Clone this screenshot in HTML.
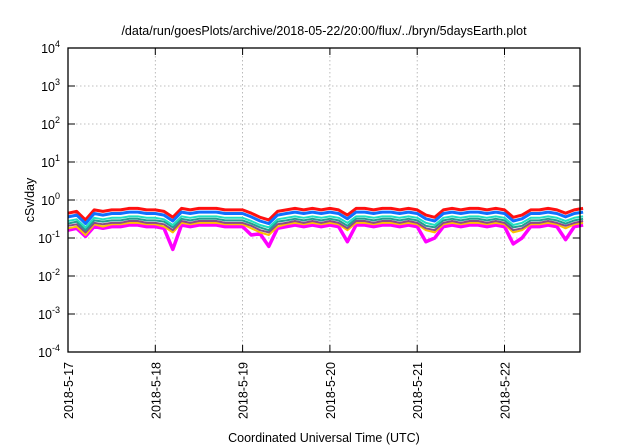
<!DOCTYPE html>
<html><head><meta charset="utf-8"><style>
body{margin:0;background:#fff;}
svg{display:block;font-family:"Liberation Sans",sans-serif;}
</style></head><body>
<svg id="chart" width="640" height="448">
<text x="324" y="35" font-size="12.5" text-anchor="middle">/data/run/goesPlots/archive/2018-05-22/20:00/flux/../bryn/5daysEarth.plot</text>
<text transform="translate(34,200) rotate(-90)" font-size="12.5" text-anchor="middle">cSv/day</text>
<text x="324" y="442" font-size="12.5" text-anchor="middle">Coordinated Universal Time (UTC)</text>
<g id="grid"></g><g id="series"></g><g id="axes"></g>
</svg>
<script>
const yTickExps=[-4,-3,-2,-1,0,1,2,3,4];
const xTickLabels=["2018-5-17","2018-5-18","2018-5-19","2018-5-20","2018-5-21","2018-5-22"];
const xTimes=[];for(let i=0;i<60;i++)xTimes.push(i/10);
const red=[.45,.5,.3,.55,.5,.55,.55,.6,.6,.55,.55,.5,.35,.6,.55,.6,.6,.6,.55,.55,.55,.45,.35,.3,.5,.55,.6,.55,.6,.55,.6,.55,.4,.6,.6,.55,.6,.6,.55,.6,.55,.4,.35,.55,.6,.55,.6,.6,.55,.6,.55,.35,.4,.55,.55,.6,.55,.45,.55,.6];
const blue=[.36,.40,.24,.44,.40,.44,.44,.48,.48,.44,.44,.40,.28,.48,.44,.48,.48,.48,.44,.44,.44,.36,.28,.24,.40,.44,.48,.44,.48,.44,.48,.44,.32,.48,.48,.44,.48,.48,.44,.48,.44,.32,.28,.44,.48,.44,.48,.48,.44,.48,.44,.28,.32,.44,.44,.48,.44,.36,.44,.48];
const cyan=[.28,.31,.19,.34,.31,.34,.34,.37,.37,.34,.34,.31,.22,.37,.34,.37,.37,.37,.34,.34,.34,.28,.22,.19,.31,.34,.37,.34,.37,.34,.37,.34,.25,.37,.37,.34,.37,.37,.34,.37,.34,.25,.22,.34,.37,.34,.37,.37,.34,.37,.34,.22,.25,.34,.34,.37,.34,.28,.34,.37];
const teal=[.24,.27,.16,.29,.27,.29,.29,.32,.32,.29,.29,.27,.19,.32,.29,.32,.32,.32,.29,.29,.29,.24,.19,.16,.27,.29,.32,.29,.32,.29,.32,.29,.21,.32,.32,.29,.32,.32,.29,.32,.29,.21,.19,.29,.32,.29,.32,.32,.29,.32,.29,.19,.21,.29,.29,.32,.29,.24,.29,.32];
const purple=[.21,.23,.14,.25,.23,.25,.25,.28,.28,.25,.25,.23,.16,.28,.25,.28,.28,.28,.25,.25,.25,.21,.16,.14,.23,.25,.28,.25,.28,.25,.28,.25,.18,.28,.28,.25,.28,.28,.25,.28,.25,.18,.16,.25,.28,.25,.28,.28,.25,.28,.25,.16,.18,.25,.25,.28,.25,.21,.25,.28];
const orange=[.18,.20,.12,.23,.20,.23,.23,.25,.25,.23,.23,.20,.14,.25,.23,.25,.25,.25,.23,.23,.23,.18,.14,.12,.20,.23,.25,.23,.25,.23,.25,.23,.16,.25,.25,.23,.25,.25,.23,.25,.23,.16,.14,.23,.25,.23,.25,.25,.23,.25,.23,.14,.16,.23,.23,.25,.23,.18,.23,.25];
const magenta=[.16,.18,.11,.20,.18,.20,.20,.22,.22,.20,.20,.18,.05,.22,.20,.22,.22,.22,.20,.20,.20,.12,.13,.06,.18,.20,.22,.20,.22,.20,.22,.20,.08,.22,.22,.20,.22,.22,.20,.22,.20,.08,.10,.20,.22,.20,.22,.22,.20,.22,.20,.07,.10,.20,.20,.22,.20,.09,.20,.22];
const seriesList=[["magenta",magenta,"#ff00ff",3.5],["orange",orange,"#ffc000",2],["purple",purple,"#8a4a8a",2],["teal",teal,"#20a090",2],["cyan",cyan,"#20e0c0",2],["red",red,"#ff1010",3],["blue",blue,"#1070ff",3]];
const L=68,R=580,T=48,B=352,dayW=87.3;
const X=t=>L+t*dayW;
const Y=v=>B-(Math.log10(v)+4)*(B-T)/8;
const NS="http://www.w3.org/2000/svg";
function mk(tag,attrs,parent){const e=document.createElementNS(NS,tag);for(const k in attrs)e.setAttribute(k,attrs[k]);parent.appendChild(e);return e;}
const grid=document.getElementById('grid'),axes=document.getElementById('axes'),sg=document.getElementById('series');
yTickExps.forEach(p=>{const y=B-(p+4)*(B-T)/8;
 if(p>-4&&p<4){const g=mk('line',{x1:L,x2:R,y1:y,y2:y,stroke:'#aaa','stroke-width':0.8,'stroke-dasharray':'1.5,2.5'},grid);
 
 }
 mk('line',{x1:L,x2:L+7,y1:y,y2:y,stroke:'#000','stroke-width':1},axes);
 mk('line',{x1:R-7,x2:R,y1:y,y2:y,stroke:'#000','stroke-width':1},axes);
 const t=mk('text',{x:L-8,y:y+5,'font-size':12.5,'text-anchor':'end'},axes);
 
 
 t.innerHTML='10<tspan dy="-6" font-size="9">'+p+'</tspan>';});
xTickLabels.forEach((lab,i)=>{const x=X(i);
 if(i>0){const g=mk('line',{x1:x,x2:x,y1:T,y2:B,stroke:'#aaa','stroke-width':0.8,'stroke-dasharray':'1.5,2.5'},grid);
 
 }
 mk('line',{x1:x,x2:x,y1:B,y2:B-7,stroke:'#000','stroke-width':1},axes);
 mk('line',{x1:x,x2:x,y1:T,y2:T+7,stroke:'#000','stroke-width':1},axes);
 const t=mk('text',{transform:`translate(${x+5},${B+10}) rotate(-90)`,'font-size':12.5,'text-anchor':'end'},axes);
 
 
 t.textContent=lab;});
const fr=mk('rect',{x:L,y:T,width:R-L,height:B-T,fill:'none',stroke:'#000','stroke-width':1.3},axes);


seriesList.forEach(([name,arr,col,w])=>{
 const pts=arr.map((v,i)=>X(xTimes[i]).toFixed(1)+','+Y(v).toFixed(1)).join(' ');
 const pl=mk('polyline',{points:pts,fill:'none',stroke:col,'stroke-width':w,'stroke-linejoin':'round'},sg);
 
 });
</script>
</body></html>
